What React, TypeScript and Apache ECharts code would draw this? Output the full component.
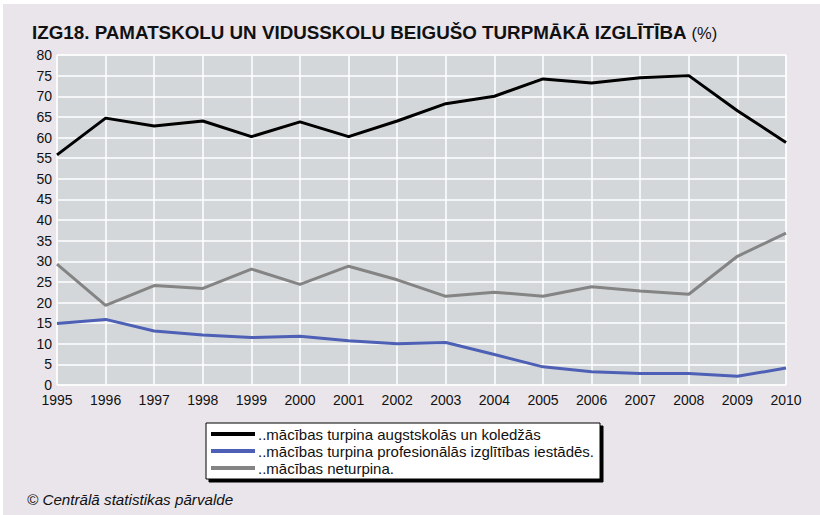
import React, { useEffect, useRef } from "react";
import * as echarts from "echarts";

const years = ["1995","1996","1997","1998","1999","2000","2001","2002","2003","2004","2005","2006","2007","2008","2009","2010"];
const higherEdu = [55.8, 64.7, 62.8, 64.0, 60.2, 63.8, 60.2, 64.0, 68.2, 70.0, 74.2, 73.2, 74.5, 75.0, 66.5, 58.8];
const vocational = [14.9, 15.9, 13.1, 12.1, 11.5, 11.8, 10.7, 10.0, 10.3, 7.4, 4.4, 3.2, 2.8, 2.8, 2.1, 4.1];
const notContinuing = [29.3, 19.3, 24.1, 23.4, 28.1, 24.4, 28.8, 25.5, 21.5, 22.5, 21.5, 23.8, 22.8, 22.0, 31.2, 36.8];
const seriesNames = [
  "..mācības turpina augstskolās un koledžās",
  "..mācības turpina profesionālās izglītības iestādēs.",
  "..mācības neturpina.",
];
const seriesColors = ["#000000", "#4d60b6", "#848484"];

export default function App() {
  const ref = useRef<HTMLDivElement>(null);
  useEffect(() => {
    if (!ref.current) return;
    const chart = echarts.init(ref.current, null, { renderer: "svg" });
    const font = "Liberation Sans, Arial, sans-serif";
    const data = [higherEdu, vocational, notContinuing];
    chart.setOption({
      animation: false,
      backgroundColor: "#ffffff",
      textStyle: { fontFamily: font },
      graphic: [
        { type: "rect", z: -10, silent: true, shape: { x: 3, y: 4, width: 830, height: 520 }, style: { fill: "#e9e5eb" } },
        { type: "text", left: 27, top: 492, style: { text: "© Centrālā statistikas pārvalde", font: "italic 15.2px Liberation Sans, Arial, sans-serif", fill: "#111" } },
      ],
      title: {
        left: 27,
        top: 18,
        text: "{b|IZG18. PAMATSKOLU UN VIDUSSKOLU BEIGUŠO TURPMĀKĀ IZGLĪTĪBA} {n|(%)}",
        textStyle: {
          rich: {
            b: { fontFamily: font, fontWeight: "bold", fontSize: 18.8, color: "#111" },
            n: { fontFamily: font, fontWeight: "normal", fontSize: 16.5, color: "#111" },
          },
        },
      },
      grid: {
        left: 57, right: 34, top: 55, bottom: 130,
        show: true, backgroundColor: "#d4d7d9", borderColor: "#ffffff", borderWidth: 1,
      },
      legend: {
        orient: "vertical",
        left: 206,
        top: 423,
        backgroundColor: "#ffffff",
        borderColor: "#000000",
        borderWidth: 1,
        shadowColor: "#000000",
        shadowOffsetX: 3,
        shadowOffsetY: 3,
        shadowBlur: 0,
        padding: [3, 6, 3, 5],
        itemGap: 1,
        itemWidth: 44,
        itemHeight: 4,
        icon: "rect",
        textStyle: { fontFamily: font, fontSize: 15, color: "#111", lineHeight: 16, padding: [0, 0, 0, -2] },
        data: seriesNames,
      },
      xAxis: {
        type: "category",
        data: years,
        boundaryGap: false,
        axisLine: { show: false },
        axisTick: { show: false },
        axisLabel: { color: "#111", fontSize: 14, margin: 8, lineHeight: 13, fontFamily: font },
        splitLine: { show: true, lineStyle: { color: "#ffffff", width: 1.5 } },
      },
      yAxis: {
        type: "value",
        min: 0, max: 80, interval: 5,
        axisLine: { show: false },
        axisTick: { show: false },
        axisLabel: { color: "#111", fontSize: 14, margin: 5, lineHeight: 12, fontFamily: font },
        splitLine: { show: true, lineStyle: { color: "#ffffff", width: 1.5 } },
      },
      series: seriesNames.map((name, i) => ({
        name,
        type: "line",
        data: data[i],
        symbol: "none",
        color: seriesColors[i],
        lineStyle: { color: seriesColors[i], width: 3 },
        itemStyle: { color: seriesColors[i] },
      })),
    });
    return () => chart.dispose();
  }, []);
  return <div ref={ref} style={{ position: "fixed", left: 0, top: 0, width: 820, height: 515 }} />;
}
